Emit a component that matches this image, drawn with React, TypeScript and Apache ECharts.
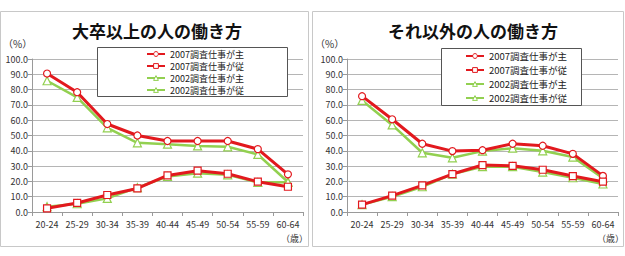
import React, { useEffect, useRef } from "react";
import * as echarts from "echarts";

const categories = ["20-24", "25-29", "30-34", "35-39", "40-44", "45-49", "50-54", "55-59", "60-64"];
const seriesNames = ["2007調査仕事が主", "2007調査仕事が従", "2002調査仕事が主", "2002調査仕事が従"];

// 大卒以上
const univ2007Main = [90.5, 78.3, 57.5, 50.0, 46.4, 46.4, 46.4, 41.1, 24.6];
const univ2007Sub = [2.4, 5.9, 11.1, 15.4, 23.9, 27.0, 25.0, 19.8, 16.5];
const univ2002Main = [85.8, 74.9, 55.0, 45.2, 44.3, 43.2, 42.6, 37.6, 19.6];
const univ2002Sub = [3.5, 5.4, 8.9, 15.9, 23.2, 25.4, 24.3, 19.3, 19.4];

// それ以外
const other2007Main = [75.7, 60.6, 44.6, 39.8, 40.4, 44.6, 43.3, 38.0, 23.6];
const other2007Sub = [4.8, 10.7, 17.4, 24.8, 30.7, 30.2, 27.6, 23.5, 19.8];
const other2002Main = [72.9, 56.9, 38.7, 35.4, 39.8, 41.7, 40.0, 35.9, 22.0];
const other2002Sub = [4.8, 10.0, 16.5, 24.8, 29.6, 29.6, 26.1, 22.4, 18.3];

const RED = "#E2191E";
const GREEN = "#92D050";
const FONT = "'Noto Sans CJK JP', 'Noto Sans', sans-serif";

function mk(name: string, data: number[], idx: number, color: string, symbol: string, width: number, size: number, z: number) {
  return {
    type: "line",
    name,
    data,
    xAxisIndex: idx,
    yAxisIndex: idx,
    symbol,
    symbolSize: size,
    showAllSymbol: true,
    z,
    lineStyle: { color, width },
    itemStyle: { color: "#ffffff", borderColor: color, borderWidth: 1.2 },
  };
}

export default function App() {
  const ref = useRef<HTMLDivElement>(null);
  useEffect(() => {
    if (!ref.current) return;
    const chart = echarts.init(ref.current, undefined, { renderer: "svg" });
    const xAxisBase = (gi: number) => ({
      type: "category",
      gridIndex: gi,
      data: categories,
      boundaryGap: true,
      axisLine: { lineStyle: { color: "#9a9a9a", width: 1 } },
      axisTick: { show: true, length: 4, lineStyle: { color: "#9a9a9a" } },
      axisLabel: { fontSize: 9, color: "#333", margin: 8, fontFamily: FONT },
    });
    const yAxisBase = (gi: number) => ({
      type: "value",
      gridIndex: gi,
      min: 0,
      max: 100,
      interval: 10,
      axisLine: { show: true, lineStyle: { color: "#9a9a9a", width: 1 } },
      axisTick: { show: true, length: 4, lineStyle: { color: "#9a9a9a" } },
      splitLine: { lineStyle: { color: "#b5b5b5", width: 1 } },
      axisLabel: { fontSize: 9, color: "#333", margin: 4, fontFamily: FONT, formatter: (v: number) => v.toFixed(1) },
    });
    const legendBase = (left: number, top: number, gap: number, fs: number) => ({
      orient: "vertical",
      left,
      top,
      z: 20,
      itemWidth: 18,
      itemHeight: 6,
      itemGap: gap,
      padding: 0,
      data: seriesNames,
      lineStyle: { width: 2 },
      itemStyle: { borderWidth: 1 },
      textStyle: { fontSize: fs, lineHeight: 10, color: "#222", fontFamily: FONT },
      selectedMode: false,
    });
    chart.setOption({
      animation: false,
      backgroundColor: "#ffffff",
      title: [
        { text: "大卒以上の人の働き方", left: 152, top: 17, textAlign: "center", textStyle: { fontSize: 17, fontWeight: "bold", color: "#111", fontFamily: FONT } },
        { text: "それ以外の人の働き方", left: 468, top: 17, textAlign: "center", textStyle: { fontSize: 17, fontWeight: "bold", color: "#111", fontFamily: FONT } },
      ],
      grid: [
        { left: 32, top: 59, width: 271, height: 153 },
        { left: 347, top: 59, width: 271, height: 153 },
      ],
      xAxis: [xAxisBase(0), xAxisBase(1)],
      yAxis: [yAxisBase(0), yAxisBase(1)],
      legend: [legendBase(146, 49, 2, 9), legendBase(465, 51, 4, 9.5)],
      graphic: [
        { type: "rect", shape: { x: 0.5, y: 11.5, width: 308, height: 235 }, style: { fill: "none", stroke: "#c8c8c8", lineWidth: 1 }, z: 0 },
        { type: "rect", shape: { x: 312.5, y: 11.5, width: 311, height: 235 }, style: { fill: "none", stroke: "#c8c8c8", lineWidth: 1 }, z: 0 },
        { type: "rect", shape: { x: 97.5, y: 47.5, width: 190, height: 49 }, style: { fill: "#ffffff", stroke: "#555", lineWidth: 1 }, z: 1 },
        { type: "rect", shape: { x: 441.5, y: 48.5, width: 140, height: 57 }, style: { fill: "#ffffff", stroke: "#555", lineWidth: 1 }, z: 1 },
        { type: "text", x: 3, y: 38, style: { text: "（%）", fontSize: 10, fill: "#333", fontFamily: FONT }, z: 6 },
        { type: "text", x: 315, y: 38, style: { text: "（%）", fontSize: 10, fill: "#333", fontFamily: FONT }, z: 6 },
        { type: "text", x: 281, y: 234, style: { text: "（歳）", fontSize: 9, fill: "#333", fontFamily: FONT }, z: 6 },
        { type: "text", x: 597, y: 234, style: { text: "（歳）", fontSize: 9, fill: "#333", fontFamily: FONT }, z: 6 },
      ],
      series: [
        mk(seriesNames[2], univ2002Main, 0, GREEN, "triangle", 2.5, 8, 2),
        mk(seriesNames[3], univ2002Sub, 0, GREEN, "triangle", 2.5, 8, 2),
        mk(seriesNames[0], univ2007Main, 0, RED, "circle", 3, 7, 3),
        mk(seriesNames[1], univ2007Sub, 0, RED, "rect", 3, 7, 3),
        mk(seriesNames[2], other2002Main, 1, GREEN, "triangle", 2.5, 8, 2),
        mk(seriesNames[3], other2002Sub, 1, GREEN, "triangle", 2.5, 8, 2),
        mk(seriesNames[0], other2007Main, 1, RED, "circle", 3, 7, 3),
        mk(seriesNames[1], other2007Sub, 1, RED, "rect", 3, 7, 3),
      ],
    });
    return () => chart.dispose();
  }, []);
  return <div ref={ref} style={{ position: "fixed", left: 0, top: 0, width: 625, height: 256 }} />;
}
